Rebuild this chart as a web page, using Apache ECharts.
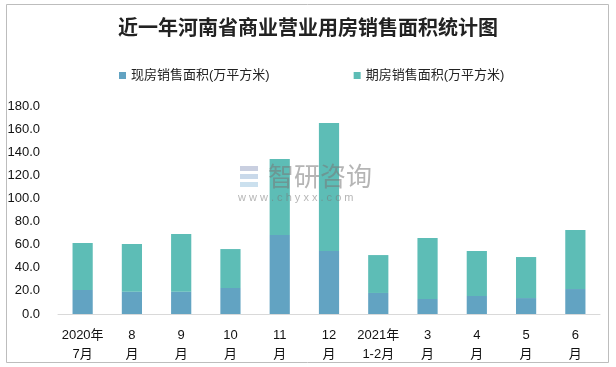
<!DOCTYPE html>
<html><head><meta charset="utf-8">
<script src="https://cdn.jsdelivr.net/npm/echarts@6/dist/echarts.min.js"></script>
<style>html,body{margin:0;padding:0;background:#fff}#c{width:616px;height:367px}</style>
</head><body><div id="c"></div>
<script>
var categories = ['2020年\n7月','8\n月','9\n月','10\n月','11\n月','12\n月','2021年\n1-2月','3\n月','4\n月','5\n月','6\n月'];
var spotArea = [20.8, 19.3, 19.3, 22.5, 68.3, 54.5, 18.2, 13.0, 15.6, 13.8, 21.6];
var futureArea = [40.6, 41.3, 49.9, 33.7, 65.8, 110.7, 32.8, 52.7, 38.9, 35.5, 51.1];
var seriesNames = ['现房销售面积(万平方米)', '期房销售面积(万平方米)'];
var titleText = '近一年河南省商业营业用房销售面积统计图';

var chart = echarts.init(document.getElementById('c'));
var font = '"Liberation Sans", "Noto Sans CJK SC", sans-serif';
chart.setOption({
  animation: false,
  backgroundColor: '#fff',
  title: {
    text: titleText, left: 'center', top: 12,
    textStyle: {fontSize: 20, fontWeight: 'bold', color: '#222', fontFamily: '"Noto Sans CJK SC", serif'}
  },
  legend: {
    left: 114, top: 64, itemWidth: 7, itemHeight: 7, itemGap: 84, icon: 'rect',
    textStyle: {fontSize: 13, color: '#222', fontFamily: font},
    data: seriesNames
  },
  grid: {left: 58, right: 16, top: 106, bottom: 53},
  xAxis: {
    type: 'category', data: categories,
    axisLine: {lineStyle: {color: '#d9d9d9'}},
    axisTick: {show: false},
    axisLabel: {interval: 0, fontSize: 13, color: '#111', lineHeight: 19, margin: 12, fontFamily: font}
  },
  yAxis: {
    type: 'value', min: 0, max: 180, interval: 20,
    axisLine: {show: false}, axisTick: {show: false}, splitLine: {show: false},
    axisLabel: {fontSize: 13, color: '#111', margin: 18, fontFamily: font,
      formatter: function (v) { return v.toFixed(1); }}
  },
  graphic: [
    {type: 'rect', shape: {x: 6.5, y: 4.5, width: 602, height: 358}, style: {fill: 'none', stroke: '#bdbdbd', lineWidth: 1}, silent: true},
    {type: 'rect', shape: {x: 240, y: 166, width: 18, height: 5}, style: {fill: '#c9cfe0'}, z: 100, silent: true},
    {type: 'rect', shape: {x: 240, y: 174, width: 18, height: 5}, style: {fill: '#c9d9ea'}, z: 100, silent: true},
    {type: 'rect', shape: {x: 240, y: 182, width: 18, height: 5}, style: {fill: '#cbe0ee'}, z: 100, silent: true},
    {type: 'text', left: 268, top: 163, style: {text: '智研咨询', fontSize: 26, fill: 'rgba(120,120,120,0.55)', fontFamily: '"Noto Sans CJK SC", sans-serif'}, z: 100, silent: true},
    {type: 'text', left: 238, top: 192, style: {text: 'w w w . c h y x x . c o m', fontSize: 11, fill: 'rgba(120,120,120,0.55)', fontFamily: font}, z: 100, silent: true}
  ],
  series: [
    {name: seriesNames[0], type: 'bar', stack: 'a', data: spotArea, barWidth: '41%', itemStyle: {color: '#62a3c2'}},
    {name: seriesNames[1], type: 'bar', stack: 'a', data: futureArea, barWidth: '41%', itemStyle: {color: '#5dbdb6'}}
  ]
});
</script>
</body></html>
